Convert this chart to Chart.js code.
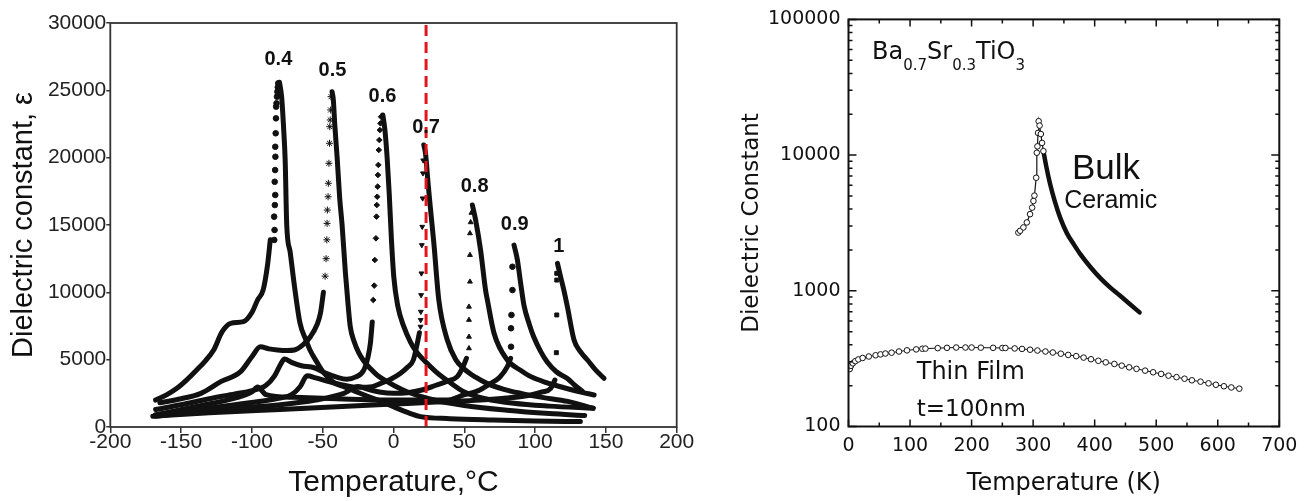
<!DOCTYPE html>
<html>
<head>
<meta charset="utf-8">
<script src="https://cdn.jsdelivr.net/npm/chart.js@4.4.1/dist/chart.umd.min.js"></script>
<style>
  html, body { margin: 0; padding: 0; background: #fff; }
  body { width: 1312px; height: 501px; position: relative; overflow: hidden; }
  canvas { position: absolute; top: 0; }
  #left-chart { left: 0; }
  #right-chart { left: 700px; }
</style>
</head>
<body>
<canvas id="left-chart" width="700" height="501"></canvas>
<canvas id="right-chart" width="612" height="501"></canvas>
<script>
// --- LEFT PANEL DATA: dielectric constant vs temperature (°C), one curve per composition ---
// each curve: dense low-T part, sparse markers on the steep rise, dense fall after the peak
const compLabels = ['0.4', '0.5', '0.6', '0.7', '0.8', '0.9', '1'];
const compLabelT = [-81.3, -43.1, -7.8, 23, 57.3, 85.6, 116.7];
const compLabelE = [26880, 26060, 24130, 21830, 17450, 14630, 12990];

const lowT04 = [-168, -160, -153, -146, -139, -133, -127, -121, -115, -106, -100, -96, -92, -89, -87];
const lowE04 = [2000, 2400, 2870, 3500, 4230, 4900, 5720, 7080, 7700, 7820, 8500, 9430, 10200, 12000, 13900];
const riseT04 = [-84.2, -84, -84.3, -83.8, -83.5, -83.9, -83.6, -83.4, -83.5, -83.2, -83, -82.9, -82.6, -82.3, -82, -81.7, -81.4];
const riseE04 = [13890, 14630, 15620, 16480, 17230, 18210, 19080, 20070, 20810, 21810, 22920, 23790, 24040, 24530, 24900, 25220, 25520];
const fallT04 = [-80.5, -79, -77.5, -76.5, -75.4, -73, -70, -66, -62, -59, -54, -49, -42, -35, -27, -20, -11, 0, 12, 19, 40, 70, 100, 132];
const fallE04 = [25600, 24500, 22000, 19800, 15000, 13000, 10500, 7700, 6500, 5720, 4800, 3990, 3300, 2990, 2650, 2350, 2000, 1500, 1000, 770, 620, 520, 450, 400];

const lowT05 = [-165, -150, -136, -122, -108, -100, -94, -88, -82, -75, -70, -64, -58.7, -54, -51.6, -49.5];
const lowE05 = [1800, 2100, 2500, 3370, 4110, 5220, 5960, 5800, 5720, 5680, 5720, 6100, 6700, 7600, 8440, 10000];
const riseT05 = [-48.3, -47.6, -47.1, -46.9, -46.7, -46.2, -46, -45.6, -45.2, -45, -44.7, -44.4, -44.1];
const riseE05 = [11200, 12500, 13900, 15120, 16110, 17100, 18100, 19580, 21070, 22300, 22800, 23540, 24530];
const fallT05 = [-43.4, -42.5, -41.5, -39.8, -38, -36.3, -34, -32, -30.5, -28, -24.5, -21, -16, -11, -5, 0, 10, 25, 50, 80, 110, 135];
const fallE05 = [24900, 24300, 22500, 20000, 17000, 15000, 11500, 9000, 7430, 6400, 5500, 4900, 4300, 3800, 3400, 3100, 2600, 2100, 1600, 1250, 1000, 850];

const lowT06 = [-168, -150, -130, -112, -100, -90, -84, -80, -77, -72, -65, -56, -48, -40, -33, -27, -21, -18, -16.3, -15];
const lowE06 = [1300, 1650, 2100, 2450, 2700, 3100, 3800, 4600, 5050, 4800, 4550, 4400, 4000, 3700, 3550, 3700, 4230, 5200, 6240, 7800];
const riseT06 = [-14.3, -13.6, -13.2, -12.4, -12, -11.8, -11.5, -11.2, -11, -10.7, -10.4, -10, -9.6, -9.2, -8.8];
const riseE06 = [9430, 10500, 12400, 14010, 15620, 16480, 17100, 17850, 18710, 19460, 20570, 21310, 22050, 22550, 23040];
const fallT06 = [-7.5, -6, -4.5, -3, -1.5, 0.2, 3, 7.3, 12, 16, 21.4, 30, 40, 50, 65, 85, 110, 141];
const fallE06 = [23170, 22000, 20000, 17300, 14000, 11160, 9000, 7450, 6300, 5600, 4975, 4100, 3300, 2600, 2100, 1760, 1550, 1390];

const lowT07 = [-168, -150, -120, -95, -80, -72, -66, -61, -55, -45, -35, -25, -15, -9, -2, 5, 10, 14, 16.8, 18.3];
const lowE07 = [900, 1150, 1550, 1900, 2150, 2400, 2990, 3800, 3650, 3350, 3100, 2950, 3000, 3240, 3550, 3990, 4450, 4975, 6210, 7000];
const riseT07 = [19.1, 19.2, 19.3, 19.5, 19.7, 20.0, 20.3, 20.6, 20.8, 21.0];
const riseE07 = [7450, 7950, 8560, 9800, 11410, 13510, 14870, 16980, 18840, 19800];
const fallT07 = [21.4, 22.6, 24.5, 26.2, 28.5, 32, 38, 44, 50, 58, 66, 78, 90, 105, 123, 141];
const fallE07 = [20940, 20320, 18000, 16110, 13640, 9430, 6460, 5000, 4300, 3700, 3240, 2800, 2500, 2200, 1900, 1390];

const lowT08 = [-168, -140, -110, -80, -55, -35, -25, -18, -10, 0, 10, 20, 30, 38, 45, 49, 51.5];
const lowE08 = [800, 1100, 1400, 1650, 2000, 2500, 3000, 2800, 2600, 2500, 2550, 2750, 3100, 3400, 3740, 4450, 5100];
const riseT08 = [53.3, 53.3, 53.3, 53.3, 54, 54, 54, 54.5, 55];
const riseE08 = [5840, 6700, 7950, 8930, 10790, 12770, 14380, 15200, 15900];
const fallT08 = [55.7, 58, 61.5, 65, 66.3, 71, 80.4, 90, 97, 108, 118, 130, 141.7];
const fallE08 = [16490, 15370, 13140, 10170, 9430, 6960, 4975, 4200, 3740, 3300, 2990, 2650, 2380];

const lowT09 = [-168, -140, -110, -100, -96, -90, -70, -40, -10, 14.4, 37.6, 49.7, 60, 68.6, 75, 80.4, 82.7];
const lowE09 = [900, 1500, 2200, 2600, 2970, 2400, 2200, 2100, 2000, 2000, 2000, 2380, 2700, 3240, 3700, 4480, 5100];
const riseT09 = [83, 83, 83.3, 84, 84];
const riseE09 = [5960, 7330, 8320, 10170, 11900];
const fallT09 = [85.1, 87.5, 89.8, 92.2, 96, 99, 104, 108.7, 115, 122.8, 128, 133.4];
const fallE09 = [13510, 12400, 10670, 9000, 7600, 6700, 5600, 4800, 4100, 3600, 3100, 2650];

const lowT10 = [-170, -130, -80, -40, 0, 30, 61.5, 80, 96.9, 105, 111, 114];
const lowE10 = [800, 1050, 1300, 1500, 1700, 1850, 2000, 2150, 2380, 2600, 2870, 3490];
const riseT10 = [115, 115.3, 115.3, 115.3];
const riseE10 = [5520, 8320, 10910, 11410];
const fallT10 = [115.8, 118, 120, 122.8, 127.5, 132, 137, 143, 148.7];
const fallE10 = [12150, 11160, 10300, 8930, 6460, 5600, 4975, 4200, 3620];

const refTemp = 23; // red dashed line (room temperature)

// --- RIGHT PANEL DATA: Ba0.7Sr0.3TiO3, dielectric constant vs temperature (K) ---
const bulkPeakT = [276, 278.9, 284.2, 289.8, 295, 298.4, 300.5, 302.1, 305, 306, 307, 308, 309, 310.5, 312.5, 314.5, 316.7];
const bulkPeakE = [2685, 2770, 2930, 3190, 3670, 4100, 4590, 5030, 6810, 10410, 11600, 14570, 17780, 16500, 14300, 12300, 10700];
const bulkTailT = [316.7, 321, 327.6, 335, 343.9, 355, 366, 376, 394, 410, 425, 440, 457, 473];
const bulkTailE = [10700, 8400, 6120, 4600, 3460, 2650, 2200, 1880, 1480, 1230, 1060, 930, 800, 693];

const filmT = [2, 4, 7, 11, 16, 23, 33, 44, 52, 60, 70, 82, 95, 110, 120, 125, 145, 160, 175, 190, 200, 215, 235, 250, 255,
  270, 282, 295, 307, 320, 332, 345, 357, 370, 382, 394, 406, 418, 432, 444, 456, 468, 482, 495, 508, 520, 533, 546,
  558, 572, 585, 597, 610, 622, 635];
const filmE = [265, 280, 292, 303, 312, 320, 328, 335, 340, 345, 350, 357, 364, 370, 374, 375, 378, 380, 382, 382, 382, 381, 380, 379, 379,
  376, 373, 368, 363, 357, 351, 344, 337, 330, 322, 313, 305, 297, 289, 281, 273, 266, 258, 251, 244, 237, 231, 225,
  219, 214, 208, 203, 198, 194, 190];

const yDecades = [100, 1000, 10000, 100000];

const rightTexts = ['Bulk', 'Ceramic', 'Thin Film', 't=100nm'];
const rightTextT = [363, 350.4, 110.9, 110.9];
const rightTextE = [6660, 4075, 225, 120.5];
const formulaParts = [['Ba', 0], ['0.7', 1], ['Sr', 0], ['0.3', 1], ['TiO', 0], ['3', 1]];
const formulaT = 38.2;
const formulaE = 50800;

// --- HELPERS ---
const pts = (xs, ys) => xs.map((x, i) => ({ x: x, y: ys[i] }));
const INK = '#111';

const curves = [
    [lowT04, lowE04, riseT04, riseE04, fallT04, fallE04],
    [lowT05, lowE05, riseT05, riseE05, fallT05, fallE05],
    [lowT06, lowE06, riseT06, riseE06, fallT06, fallE06],
    [lowT07, lowE07, riseT07, riseE07, fallT07, fallE07],
    [lowT08, lowE08, riseT08, riseE08, fallT08, fallE08],
    [lowT09, lowE09, riseT09, riseE09, fallT09, fallE09],
    [lowT10, lowE10, riseT10, riseE10, fallT10, fallE10]
];
const markerStyles = ['circle', 'star', 'rectRot', 'triangle', 'triangle', 'circle', 'rect'];
const markerRotation = [0, 0, 0, 180, 0, 0, 0];

const leftDatasets = [{
    data: [{ x: refTemp, y: 0 }, { x: refTemp, y: 30000 }],
    borderColor: '#e0161c',
    borderWidth: 3,
    borderDash: [11, 6],
    pointRadius: 0
}];

curves.forEach(function(c, i) {
    const thick = {
        borderColor: INK, borderWidth: 5, pointRadius: 0,
        borderCapStyle: 'round', borderJoinStyle: 'round',
        cubicInterpolationMode: 'monotone'
    };
    leftDatasets.push(Object.assign({ data: pts(c[0], c[1]) }, thick));
    leftDatasets.push({
        data: pts(c[2], c[3]),
        showLine: false,
        pointStyle: markerStyles[i],
        rotation: markerRotation[i],
        pointRadius: markerStyles[i] === 'star' ? 3.5 : 2.8,
        pointBackgroundColor: INK,
        pointBorderColor: INK,
        pointBorderWidth: 1
    });
    leftDatasets.push(Object.assign({ data: pts(c[4], c[5]) }, thick));
});

// --- PLUGINS ---
const leftDecor = {
    id: 'leftDecor',
    afterDatasetsDraw(chart) {
        const { ctx, chartArea: a, scales: { x, y } } = chart;
        ctx.save();
        ctx.strokeStyle = '#333';
        ctx.lineWidth = 1.8;
        ctx.strokeRect(a.left, a.top, a.width, a.height);
        ctx.fillStyle = INK;
        ctx.font = 'bold 20px "Liberation Sans", Arial, sans-serif';
        ctx.textAlign = 'center';
        ctx.textBaseline = 'alphabetic';
        compLabels.forEach(function(label, i) {
            ctx.fillText(label, x.getPixelForValue(compLabelT[i]), y.getPixelForValue(compLabelE[i]));
        });
        ctx.restore();
    }
};

const rightDecor = {
    id: 'rightDecor',
    afterDatasetsDraw(chart) {
        const { ctx, chartArea: a, scales: { x, y } } = chart;
        ctx.save();
        ctx.strokeStyle = INK;
        ctx.lineWidth = 1.5;
        ctx.beginPath();
        for (let v = x.min; v <= x.max; v += 50) {
            const px = x.getPixelForValue(v);
            const len = v % 100 === 0 ? 7 : 4;
            ctx.moveTo(px, a.bottom); ctx.lineTo(px, a.bottom - len);
            ctx.moveTo(px, a.top); ctx.lineTo(px, a.top + len);
        }
        yDecades.forEach(function(d) {
            for (let m = 1; m <= 9; m++) {
                const v = d * m;
                if (v > y.max) break;
                const py = y.getPixelForValue(v);
                const len = m === 1 ? 8 : 4;
                ctx.moveTo(a.left, py); ctx.lineTo(a.left + len, py);
                ctx.moveTo(a.right, py); ctx.lineTo(a.right - len, py);
            }
        });
        ctx.stroke();
        ctx.lineWidth = 2;
        ctx.strokeRect(a.left, a.top, a.width, a.height);

        ctx.fillStyle = INK;
        ctx.textAlign = 'left';
        ctx.textBaseline = 'alphabetic';
        const fonts = ['35px "Liberation Sans", Arial', '25px "Liberation Sans", Arial', '24px "DejaVu Sans"', '23px "DejaVu Sans"'];
        rightTexts.forEach(function(t, i) {
            ctx.font = fonts[i];
            ctx.fillText(t, x.getPixelForValue(rightTextT[i]), y.getPixelForValue(rightTextE[i]));
        });

        let cx = x.getPixelForValue(formulaT);
        const base = y.getPixelForValue(formulaE);
        formulaParts.forEach(function(p) {
            ctx.font = p[1] ? '15px "DejaVu Sans"' : '24px "DejaVu Sans"';
            ctx.fillText(p[0], cx, p[1] ? base + 11 : base);
            cx += ctx.measureText(p[0]).width;
        });
        ctx.restore();
    }
};

// --- LEFT CHART ---
const leftFont = 'Liberation Sans';
new Chart(document.getElementById('left-chart'), {
    type: 'line',
    data: { datasets: leftDatasets },
    options: {
        responsive: false,
        animation: false,
        layout: { padding: { top: 23, right: 23.3, bottom: 0, left: 0 } },
        plugins: { legend: { display: false }, tooltip: { enabled: false } },
        scales: {
            x: {
                type: 'linear', min: -200, max: 200,
                afterFit: function(s) { s.height = 74; },
                ticks: { stepSize: 50, autoSkip: false, maxRotation: 0, padding: -3, color: '#222',
                    font: { family: leftFont, size: 21 }, callback: v => String(v) },
                grid: { drawOnChartArea: false, drawTicks: true, tickLength: 6, color: '#333', lineWidth: 1.5 },
                border: { display: false },
                title: { display: true, text: 'Temperature,°C', color: INK,
                    font: { family: leftFont, size: 30 }, padding: { top: 0, bottom: 0.5 } }
            },
            y: {
                type: 'linear', min: 0, max: 30000,
                afterFit: function(s) { s.width = 110.3; },
                ticks: { stepSize: 5000, autoSkip: false, padding: 0, color: '#222',
                    font: { family: leftFont, size: 21 }, callback: v => String(v) },
                grid: { drawOnChartArea: false, drawTicks: true, tickLength: 4, color: '#333', lineWidth: 1.5 },
                border: { display: false },
                title: { display: true, text: 'Dielectric constant, ε', color: INK,
                    font: { family: leftFont, size: 29 }, padding: { top: 7, bottom: 0 } }
            }
        }
    },
    plugins: [leftDecor]
});

// --- RIGHT CHART ---
const rightFont = 'DejaVu Sans';
new Chart(document.getElementById('right-chart'), {
    type: 'line',
    data: {
        datasets: [
            {
                data: pts(filmT, filmE),
                borderColor: INK, borderWidth: 1,
                pointStyle: 'circle', pointRadius: 2.8,
                pointBackgroundColor: '#fff', pointBorderColor: INK, pointBorderWidth: 1
            },
            {
                data: pts(bulkPeakT, bulkPeakE),
                borderColor: INK, borderWidth: 1.2,
                pointStyle: 'circle', pointRadius: 2.8,
                pointBackgroundColor: '#fff', pointBorderColor: INK, pointBorderWidth: 1
            },
            {
                data: pts(bulkTailT, bulkTailE),
                borderColor: INK, borderWidth: 4.5, pointRadius: 0, borderCapStyle: 'round',
                cubicInterpolationMode: 'monotone'
            }
        ]
    },
    options: {
        responsive: false,
        animation: false,
        layout: { padding: { top: 18.5, right: 32.7, bottom: 0, left: 0 } },
        plugins: { legend: { display: false }, tooltip: { enabled: false } },
        scales: {
            x: {
                type: 'linear', min: 0, max: 700,
                afterFit: function(s) { s.height = 74.5; },
                ticks: { stepSize: 100, autoSkip: false, maxRotation: 0, padding: 8, color: INK,
                    font: { family: rightFont, size: 19 }, callback: v => String(v) },
                grid: { display: false, drawTicks: false, tickLength: 0 },
                border: { display: false },
                title: { display: true, text: 'Temperature (K)', color: INK,
                    font: { family: rightFont, size: 24 }, padding: { top: 0, bottom: 2.6 } }
            },
            y: {
                type: 'logarithmic', min: 100, max: 100000,
                afterFit: function(s) { s.width = 148.5; },
                afterBuildTicks: function(s) { s.ticks = yDecades.map(v => ({ value: v })); },
                ticks: { autoSkip: false, padding: 8, color: INK,
                    font: { family: rightFont, size: 19 }, callback: v => String(v) },
                grid: { display: false, drawTicks: false, tickLength: 0 },
                border: { display: false },
                title: { display: true, text: 'Dielectric Constant', color: INK,
                    font: { family: rightFont, size: 23 }, padding: { top: 38, bottom: 0 } }
            }
        }
    },
    plugins: [rightDecor]
});
</script>
</body>
</html>
